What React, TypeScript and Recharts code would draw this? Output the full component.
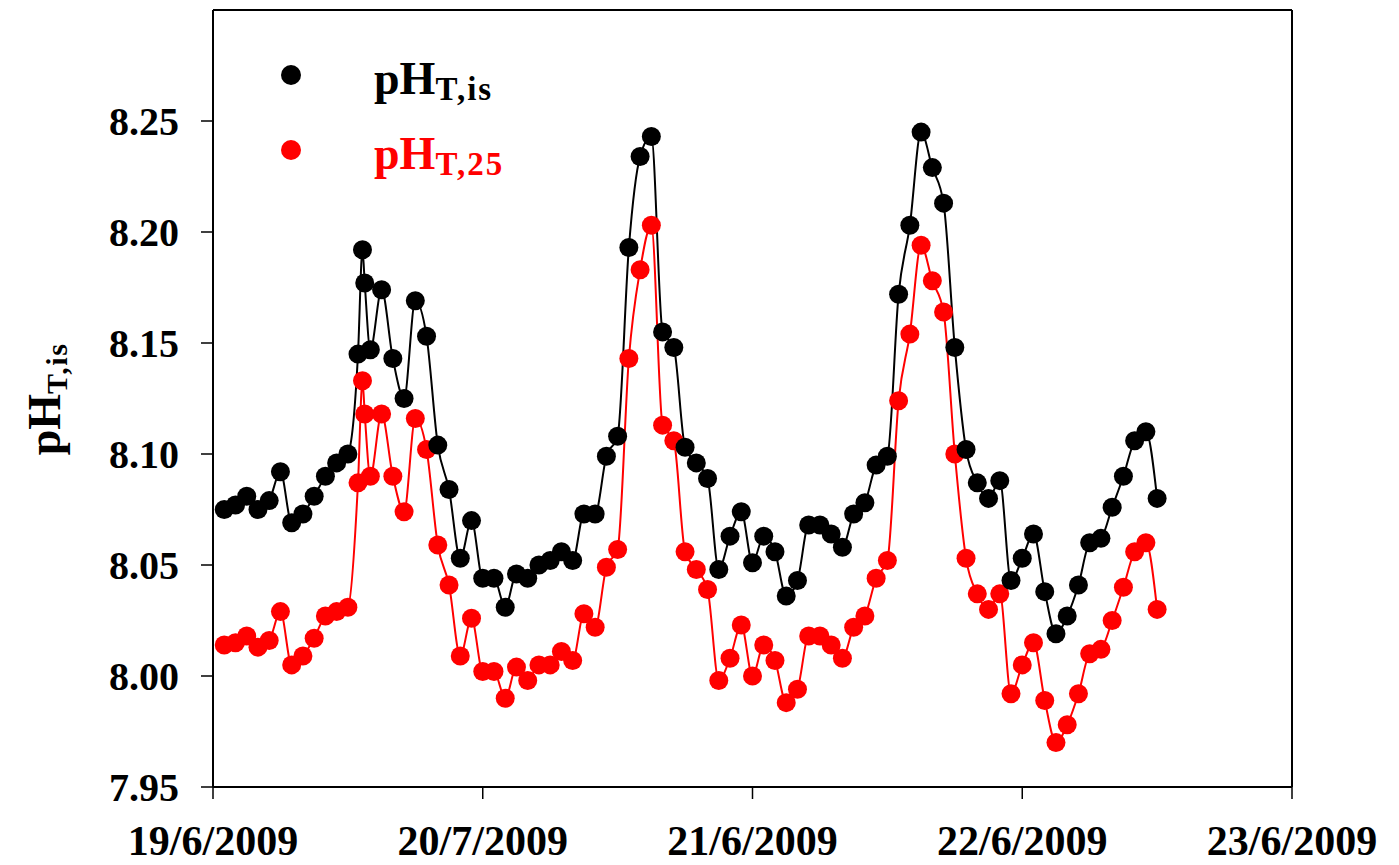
import { LineChart, Line, XAxis, YAxis, ReferenceLine } from "recharts";

document.body.style.margin = "0";

// hours since 19/6/2009 00:00
const hours = [
  1, 2, 3, 4, 5, 6, 7, 8, 9, 10, 11, 12, 12.9, 13.3, 13.5, 14,
  15, 16, 17, 18, 19, 20, 21, 22, 23, 24, 25, 26, 27, 28,
  29, 30, 31, 32, 33, 34, 35, 36, 37, 38, 39, 40, 41, 42, 43,
  44, 45, 46, 47, 48, 49, 50, 51, 52, 53, 54, 55, 56, 57, 58, 59, 60,
  61, 62, 63, 64, 65, 66, 67, 68, 69, 70,
  71, 72, 73, 74, 75, 76, 77, 78, 79, 80, 81, 82, 83, 84,
];

const phInSitu = [
  8.075, 8.077, 8.081, 8.075, 8.079, 8.092, 8.069, 8.073, 8.081, 8.09, 8.096, 8.1,
  8.145, 8.192, 8.177, 8.147,
  8.174, 8.143, 8.125, 8.169, 8.153, 8.104, 8.084, 8.053, 8.07, 8.044, 8.044, 8.031, 8.046, 8.044,
  8.05, 8.052, 8.056, 8.052, 8.073, 8.073, 8.099, 8.108, 8.193, 8.234, 8.243, 8.155, 8.148, 8.103, 8.096,
  8.089, 8.048, 8.063, 8.074, 8.051, 8.063, 8.056, 8.036, 8.043, 8.068, 8.068, 8.064, 8.058, 8.073, 8.078, 8.095, 8.099,
  8.172, 8.203, 8.245, 8.229, 8.213, 8.148, 8.102, 8.087, 8.08, 8.088,
  8.043, 8.053, 8.064, 8.038, 8.019, 8.027, 8.041, 8.06, 8.062, 8.076, 8.09, 8.106, 8.11, 8.08,
];

const ph25 = [
  8.014, 8.015, 8.018, 8.013, 8.016, 8.029, 8.005, 8.009, 8.017, 8.027, 8.029, 8.031,
  8.087, 8.133, 8.118, 8.09,
  8.118, 8.09, 8.074, 8.116, 8.102, 8.059, 8.041, 8.009, 8.026, 8.002, 8.002, 7.99, 8.004, 7.998,
  8.005, 8.005, 8.011, 8.007, 8.028, 8.022, 8.049, 8.057, 8.143, 8.183, 8.203, 8.113, 8.106, 8.056, 8.048,
  8.039, 7.998, 8.008, 8.023, 8.0, 8.014, 8.007, 7.988, 7.994, 8.018, 8.018, 8.014, 8.008, 8.022, 8.027, 8.044, 8.052,
  8.124, 8.154, 8.194, 8.178, 8.164, 8.1, 8.053, 8.037, 8.03, 8.037,
  7.992, 8.005, 8.015, 7.989, 7.97, 7.978, 7.992, 8.01, 8.012, 8.025, 8.04, 8.056, 8.06, 8.03,
];

const dayTicks = [0, 24, 48, 72, 96];
const dayLabels = ["19/6/2009", "20/7/2009", "21/6/2009", "22/6/2009", "23/6/2009"];
const phTicks = [7.95, 8.0, 8.05, 8.1, 8.15, 8.2, 8.25];

const data = hours.map((h, i) => ({ h, insitu: phInSitu[i], t25: ph25[i] }));

const font = "'Liberation Serif', 'Times New Roman', serif";
const RED = "#ff0000";

export default function App() {
  return (
    <div style={{ position: "relative", width: 1399, height: 865, background: "#fff" }}>
      <LineChart
        width={1399}
        height={865}
        data={data}
        margin={{ top: 10, right: 107, bottom: 0, left: 0 }}
      >
        <XAxis
          dataKey="h"
          type="number"
          domain={[0, 96]}
          ticks={dayTicks}
          tickFormatter={(v: number) => dayLabels[dayTicks.indexOf(v)]}
          height={78}
          tickSize={12}
          tickMargin={26}
          axisLine={{ stroke: "#000", strokeWidth: 2 }}
          tickLine={{ stroke: "#000", strokeWidth: 1.5 }}
          tick={{ fill: "#000", fontSize: 42, fontWeight: "bold", fontFamily: font }}
        />
        <YAxis
          type="number"
          domain={[7.95, 8.3]}
          ticks={phTicks}
          tickFormatter={(v: number) => v.toFixed(2)}
          width={213}
          tickSize={12}
          tickMargin={22}
          axisLine={{ stroke: "#000", strokeWidth: 2 }}
          tickLine={{ stroke: "#000", strokeWidth: 1.5 }}
          tick={{ fill: "#000", fontSize: 40, fontWeight: "bold", fontFamily: font }}
        />
        <ReferenceLine y={8.3} stroke="#000" strokeWidth={2} />
        <ReferenceLine x={96} stroke="#000" strokeWidth={2} />
        <Line
          type="monotone"
          dataKey="t25"
          stroke={RED}
          strokeWidth={2}
          dot={{ r: 9.5, fill: RED, stroke: RED, strokeWidth: 0 }}
          activeDot={false}
          isAnimationActive={false}
        />
        <Line
          type="monotone"
          dataKey="insitu"
          stroke="#000"
          strokeWidth={2}
          dot={{ r: 9.5, fill: "#000", stroke: "#000", strokeWidth: 0 }}
          activeDot={false}
          isAnimationActive={false}
        />
      </LineChart>
      <svg
        width={1399}
        height={865}
        style={{ position: "absolute", left: 0, top: 0, pointerEvents: "none" }}
        fontFamily={font}
        fontWeight="bold"
      >
        <text transform="translate(60, 399) rotate(-90)" textAnchor="middle" fontSize={46} fill="#000">
          pH<tspan fontSize={30} dy={7} letterSpacing={1.5}>T,is</tspan>
        </text>
        <circle cx={291} cy={75} r={10} fill="#000" />
        <text x={374} y={94} fontSize={46} fill="#000">
          pH<tspan fontSize={33} dy={6} letterSpacing={2}>T,is</tspan>
        </text>
        <circle cx={291} cy={150} r={10} fill={RED} />
        <text x={374} y={169} fontSize={46} fill={RED}>
          pH<tspan fontSize={33} dy={6} letterSpacing={2}>T,25</tspan>
        </text>
      </svg>
    </div>
  );
}
